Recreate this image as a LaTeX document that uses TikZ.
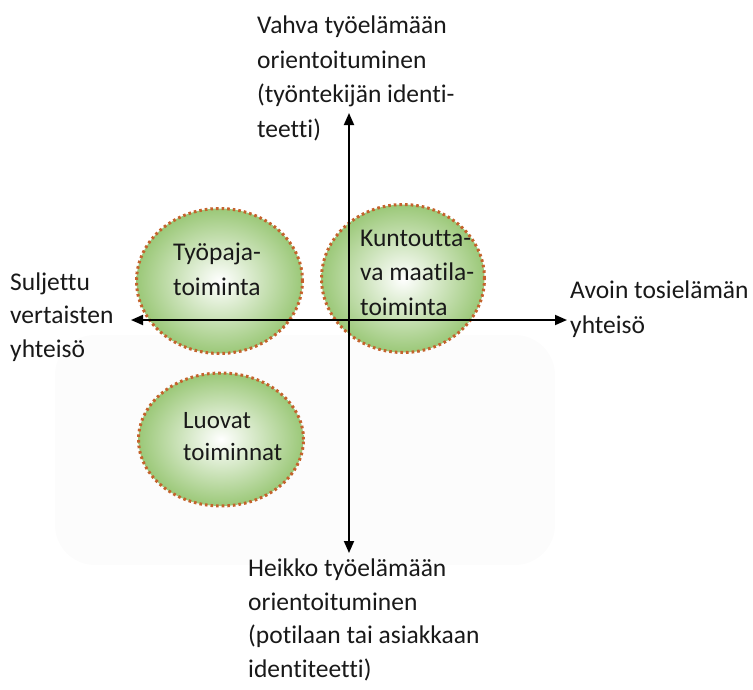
\documentclass[tikz,border=0pt]{standalone}
\usepackage{fontspec}
\setmainfont{Carlito}[Ligatures=NoCommon]
\usetikzlibrary{arrows.meta,shapes.geometric}
\definecolor{dotbrown}{RGB}{196,98,44}
\definecolor{ellgreen}{RGB}{155,200,120}
\tikzset{
  bubble/.style={ellipse, inner sep=0pt, shading=radial, inner color=white, outer color=ellgreen,
    draw=dotbrown, line width=3pt, dash pattern=on 2.6pt off 3pt},
  lbl/.style={anchor=base west, align=left, inner sep=0pt, font=\fontsize{25.5}{34.5}\selectfont, text=black!90},
  axis/.style={line width=1.8pt, {Triangle[length=12pt,width=10pt]}-{Triangle[length=12pt,width=10pt]}}
}
\begin{document}
\begin{tikzpicture}[x=1pt,y=-1pt]
\useasboundingbox (0,0) rectangle (753,689);
\fill[black!1.1, rounded corners=40pt] (55,335) rectangle (555,565);
\node[bubble, minimum width=166pt, minimum height=145pt] (tyo) at (219.5,281) {};
\node[bubble, minimum width=163pt, minimum height=148pt] (kun) at (403,278.5) {};
\node[bubble, minimum width=165pt, minimum height=133pt] (luo) at (221,439.5) {};
\coordinate (top) at (349,113);
\coordinate (bot) at (349,553);
\coordinate (lft) at (131,320);
\coordinate (rgt) at (567,320);
\draw[axis] (top) -- (bot);
\draw[axis] (lft) -- (rgt);
\node[lbl] (t1) at (173,295) {Työpaja-\\toiminta};
\node[lbl] (t2) at (360,315) {Kuntoutta-\\va maatila-\\toiminta};
\node[lbl, font=\fontsize{25}{32}\selectfont] (t3) at (183,460) {Luovat\\toiminnat};
\node[lbl] (up) at (257,137) {Vahva työelämään\\orientoituminen\\(työntekijän identi-\\teetti)};
\node[lbl, font=\fontsize{25.5}{33.5}\selectfont] (lt) at (10,357) {Suljettu\\vertaisten\\yhteisö};
\node[lbl] (rt) at (570,333) {Avoin tosielämän\\yhteisö};
\node[lbl, font=\fontsize{25.5}{33.5}\selectfont] (dn) at (248,677) {Heikko työelämään\\orientoituminen\\(potilaan tai asiakkaan\\identiteetti)};
\end{tikzpicture}
\end{document}
